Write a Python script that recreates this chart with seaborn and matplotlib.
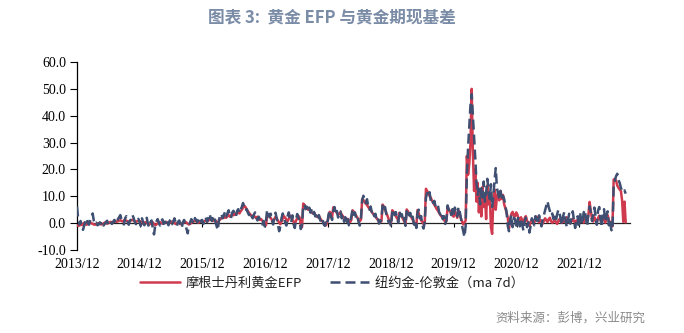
import numpy as np
import pandas as pd
import matplotlib
matplotlib.use("Agg")
import matplotlib.pyplot as plt
import matplotlib.dates as mdates
import seaborn as sns

# ---------------- data (weekly readings, starting 2013-12-01) ----------------
start_date = "2013-12-01"

efp_values = [
    # 2013/12 - 2014/11
    -0.8,-1.0,-0.9,-0.5,-0.7,-0.3,0.2,-0.4,-0.6,-0.2,0.1,0.3,0.0,-0.3,-0.5,-0.6,-0.4,-0.2,0.0,-0.3,
    -0.5,-0.4,-0.1,0.2,0.1,-0.2,0.0,0.3,0.5,0.2,0.4,0.6,0.8,0.5,0.7,0.9,1.1,0.8,0.6,1.0,
    1.2,0.9,0.7,0.5,0.8,1.0,1.3,1.0,0.6,0.4,0.7,0.9,
    # 2014/12 - 2015/11
    0.8,0.5,0.3,-0.2,0.1,0.4,0.2,-0.3,-0.5,-0.2,0.0,0.3,-0.4,-0.8,-0.5,-0.1,0.2,0.4,0.1,-0.2,
    0.0,0.3,0.5,0.2,-0.1,0.1,0.4,0.6,0.3,0.0,-0.3,-0.1,0.2,0.0,-0.4,-0.2,0.1,0.3,0.5,0.2,
    -0.2,-0.5,-0.3,0.1,0.4,0.6,0.9,0.7,0.4,0.2,0.5,0.8,
    # 2015/12 - 2016/11
    0.5,0.3,0.8,1.0,0.6,0.9,1.2,1.5,1.1,0.8,1.3,1.0,0.4,0.2,0.9,1.4,1.8,2.2,1.9,2.5,
    2.0,2.6,3.0,2.4,2.8,3.3,2.9,3.5,3.1,3.8,4.2,3.6,4.4,5.0,5.8,6.5,6.0,5.2,4.5,3.8,
    3.2,2.9,2.5,2.8,2.2,1.9,2.4,1.6,1.2,1.5,0.9,0.5,
    # 2016/12 - 2017/11
    -0.5,-0.8,2.5,3.2,2.6,1.9,1.2,0.8,1.5,2.4,1.8,0.9,0.3,-0.4,0.6,1.8,2.6,2.0,1.3,0.7,
    1.6,2.8,2.2,1.4,0.5,-0.2,0.9,1.8,2.7,2.1,-0.6,-1.5,7.3,6.8,6.2,5.6,5.0,5.5,4.6,4.0,
    3.6,3.9,3.1,2.6,2.2,2.8,1.9,1.2,0.6,0.2,-0.3,-0.8,
    # 2017/12 - 2018/11
    0.5,2.0,4.2,3.6,2.4,5.9,5.2,4.4,3.8,3.0,3.5,4.1,3.2,2.6,2.0,1.5,1.0,1.6,0.8,0.4,
    1.2,4.8,4.2,3.5,2.8,2.0,1.4,0.7,1.3,9.0,8.6,8.0,7.2,6.8,6.0,5.4,4.9,4.2,3.5,3.0,
    2.4,1.8,1.2,0.8,1.0,0.6,6.9,6.2,5.0,3.9,2.8,1.5,
    # 2018/12 - 2019/11
    -0.2,0.3,4.8,4.2,3.5,2.6,1.8,1.0,3.9,3.2,2.4,1.5,0.6,-0.3,5.1,4.4,3.6,2.8,2.0,1.2,
    0.3,-0.6,-1.0,4.9,3.6,2.2,1.0,0.5,-0.4,0.2,12.8,12.0,11.2,10.1,9.5,8.4,7.6,6.8,6.0,5.2,
    4.6,3.8,3.0,2.4,1.8,1.2,0.5,0.8,5.9,5.2,4.4,3.6,
    # 2019/12 - 2020/11
    3.0,2.4,4.5,3.2,2.0,4.8,3.5,1.8,0.6,-0.5,0.2,1.0,25.0,18.0,22.0,30.0,50.0,26.0,12.0,20.0,
    8.0,15.0,4.0,12.0,2.5,13.5,6.0,10.5,1.5,14.0,7.0,11.0,-1.5,-4.0,9.0,12.5,5.0,10.0,11.5,8.5,
    12.0,9.0,10.5,7.0,5.5,4.0,2.0,-2.0,1.5,3.5,4.2,2.8,
    # 2020/12 - 2021/11
    2.5,4.0,3.2,1.5,0.8,2.2,1.0,-0.5,1.8,2.6,0.9,0.2,-1.0,0.5,1.4,0.8,0.2,1.6,2.4,1.0,
    0.3,1.2,0.6,-0.2,0.9,1.8,1.1,0.4,1.5,2.0,0.7,0.1,0.6,1.2,0.4,-0.3,0.8,1.5,0.6,0.2,
    1.0,0.5,1.3,2.2,0.9,0.3,1.1,0.6,1.7,0.8,0.2,1.0,
    # 2021/12 - 2022/08
    0.8,1.5,0.4,2.0,1.2,0.2,1.6,2.4,0.9,3.0,7.9,4.5,1.5,
    0.6,2.2,1.0,0.3,1.8,2.8,1.2,0.5,2.4,1.5,0.2,1.9,3.0,1.0,0.4,-0.5,-1.2,
    16.2,16.5,15.8,14.0,13.2,12.5,12.0,8.5,0.5,8.0,0.3,
]

basis_values = [
    # 2013/12 - 2014/11
    6.2,1.5,-0.5,0.8,-1.2,-2.5,-0.8,0.5,1.8,0.2,-0.6,1.2,2.0,3.6,0.8,-0.4,0.2,-0.8,-0.5,0.3,
    -0.2,0.6,-0.9,-0.3,0.4,0.9,-0.5,0.2,0.7,-0.3,0.5,1.2,0.3,-0.2,1.5,2.2,3.0,1.2,0.4,-0.5,
    1.8,2.6,0.8,-0.6,0.9,1.5,3.1,2.0,0.5,-0.4,1.1,1.6,
    # 2014/12 - 2015/11
    0.5,-1.0,1.8,0.3,-0.8,1.2,2.0,-0.5,-1.5,0.4,1.0,-2.0,-4.2,-1.0,0.6,1.5,0.2,-0.9,0.8,1.4,
    -0.3,0.2,1.6,0.5,-0.8,0.9,1.3,-0.4,0.6,1.8,0.2,-1.1,0.5,1.0,-0.6,-1.8,0.3,1.2,-0.5,-2.2,
    -3.8,-0.8,0.4,1.5,0.7,-0.2,1.9,1.1,0.3,1.4,2.2,0.6,
    # 2015/12 - 2016/11
    1.2,-0.3,0.9,2.1,0.4,1.5,3.5,2.2,0.8,1.9,2.8,0.5,-1.0,-2.6,1.2,2.8,3.5,1.8,2.9,4.2,
    2.5,3.6,4.8,2.8,1.9,3.9,4.6,3.2,2.4,4.5,5.2,3.8,4.9,6.1,7.5,5.8,4.6,5.2,3.9,3.0,
    4.1,2.6,1.8,3.2,4.0,2.1,1.0,2.4,1.5,0.3,-0.5,0.8,
    # 2016/12 - 2017/11
    -1.2,0.5,5.0,3.8,2.2,3.5,1.0,-0.5,2.8,3.9,1.6,-0.8,-3.0,-1.2,1.9,3.6,2.1,0.2,-0.9,2.6,
    4.0,1.5,0.3,2.9,-0.4,-1.8,1.2,3.4,2.0,0.6,-2.2,-0.5,6.5,7.0,5.2,6.1,4.3,5.8,3.9,4.8,
    3.0,4.2,2.5,3.4,1.8,3.0,1.2,0.5,1.6,-0.4,-1.0,0.3,
    # 2017/12 - 2018/11
    -0.6,3.1,4.8,2.5,1.2,4.6,6.0,3.2,4.5,2.1,3.9,4.4,1.8,3.0,0.5,2.2,-0.3,1.4,-0.8,0.6,
    2.5,5.2,3.1,4.0,1.8,2.6,0.4,-0.9,2.0,8.5,10.2,8.8,7.5,8.9,6.4,5.0,6.2,4.1,4.8,2.6,
    3.5,1.2,2.0,-0.2,0.5,1.5,7.2,5.6,6.0,3.4,2.2,0.3,
    # 2018/12 - 2019/11
    0.8,-1.2,3.9,5.2,3.0,4.1,1.6,0.2,4.5,2.6,3.3,0.8,1.9,-1.0,4.4,5.3,2.9,3.8,1.2,2.4,
    -0.5,0.9,-1.8,4.0,5.0,1.8,2.6,-0.8,-2.0,0.4,9.5,11.2,10.0,11.5,8.2,9.0,7.5,8.3,6.1,5.6,
    6.5,4.0,3.2,4.1,1.5,2.6,-0.3,1.0,6.6,4.8,5.5,3.0,
    # 2019/12 - 2020/11
    5.2,3.1,5.8,4.0,2.5,6.0,4.4,2.0,-1.0,-3.0,-5.2,-1.0,18.0,28.0,36.0,44.0,48.0,40.0,32.0,24.0,
    15.0,10.5,12.8,7.0,13.0,9.5,15.5,8.0,11.0,16.5,12.0,9.0,14.5,6.0,10.0,16.0,20.5,13.0,11.0,9.0,
    12.0,8.5,10.2,9.0,6.5,4.0,-1.0,-3.0,1.2,3.0,-1.5,2.0,
    # 2020/12 - 2021/11
    1.5,-2.0,0.8,2.5,-1.2,1.6,-0.5,-2.8,0.6,2.0,-1.5,0.3,-3.5,-1.0,1.8,0.5,-0.8,2.6,1.2,-0.4,
    2.9,0.8,-1.2,1.5,3.0,4.8,6.5,8.2,6.0,4.5,2.8,3.6,1.5,2.4,0.8,3.2,5.0,3.8,1.5,-0.8,
    2.6,4.2,1.2,-1.5,0.8,3.5,-0.2,2.0,4.4,1.0,-1.8,1.4,
    # 2021/12 - 2022/08
    2.5,-1.8,4.2,1.0,-0.5,3.8,5.0,1.5,-1.2,3.6,6.2,4.0,0.8,
    3.5,5.8,2.2,-0.6,4.6,6.0,1.8,-1.5,3.2,5.2,0.5,2.8,4.4,-0.8,1.2,-2.5,-3.0,
    14.0,16.0,17.5,18.4,16.0,15.0,13.2,12.0,11.5,12.2,11.0,
]

efp_label = "摩根士丹利黄金EFP"
basis_label = "纽约金-伦敦金（ma 7d）"
title_text = "图表 3:  黄金 EFP 与黄金期现基差"
source_text = "资料来源：彭博，兴业研究"
tick_years = list(range(2013, 2022))
y_ticks = [-10, 0, 10, 20, 30, 40, 50, 60]

# ---------------- build frames ----------------
df_efp = pd.DataFrame({"date": pd.date_range(start_date, periods=len(efp_values), freq="7D"),
                       "value": efp_values})
df_basis = pd.DataFrame({"date": pd.date_range(start_date, periods=len(basis_values), freq="7D"),
                         "value": basis_values})

sns.set_theme(style="white")
plt.rcParams["font.family"] = ["Noto Sans CJK SC", "DejaVu Sans"]

RED = "#D03A4E"
BLUE = "#3E4F72"

fig = plt.figure(figsize=(6.84, 3.33), dpi=100)
ax = fig.add_axes([77 / 684, 1 - 250 / 333, (630 - 77) / 684, (250 - 62) / 333])

sns.lineplot(data=df_efp, x="date", y="value", ax=ax, color=RED, linewidth=1.8,
             estimator=None, label=efp_label, zorder=3)
sns.lineplot(data=df_basis, x="date", y="value", ax=ax, color=BLUE, linewidth=1.8,
             estimator=None, label=basis_label, zorder=4)
blue_line = ax.get_lines()[1]
blue_line.set_dashes((4, 2))

ax.set_ylim(-10, 60)
ax.set_xlim(pd.Timestamp("2013-12-01"), pd.Timestamp("2022-09-22"))
ax.set_xlabel("")
ax.set_ylabel("")

tick_dates = [pd.Timestamp(f"{y}-12-01") for y in tick_years]
ax.set_xticks(tick_dates)
ax.set_xticklabels([f"{y}/12" for y in tick_years], fontfamily="Liberation Serif", fontsize=10)
ax.set_yticks(y_ticks)
ax.set_yticklabels([f"{v:.1f}" for v in y_ticks], fontfamily="Liberation Serif", fontsize=10)
ax.tick_params(axis="x", length=0, pad=6, colors="black")
ax.tick_params(axis="y", direction="out", length=5, width=0.8, pad=3, colors="black", left=True)

for s in ["top", "right", "bottom"]:
    ax.spines[s].set_visible(False)
ax.spines["left"].set_color("black")
ax.spines["left"].set_linewidth(0.9)

# zero line with tick marks (axis crossing at 0)
secax = ax.secondary_xaxis(10 / 70)
secax.set_xticks(mdates.date2num(tick_dates))
secax.tick_params(axis="x", direction="out", length=3, width=0.8, labelbottom=False, colors="black")
secax.spines["bottom"].set_color("#222222")
secax.spines["bottom"].set_linewidth(0.9)

leg = ax.legend(loc="center", bbox_to_anchor=(332 / 684, 1 - 283 / 333),
                bbox_transform=fig.transFigure, ncol=2, frameon=False,
                handlelength=3.0, columnspacing=2.1, handletextpad=0.45,
                prop={"family": ["Noto Sans CJK SC", "DejaVu Sans"], "size": 9.5})
for t in leg.get_texts():
    t.set_color("#222222")

fig.text(332 / 684, 1 - 17 / 333, title_text, ha="center", va="center",
         fontsize=12, fontweight="bold", color="#7B8CA7",
         family=["Noto Sans CJK SC", "DejaVu Sans"])
fig.text(645 / 684, 1 - 318 / 333, source_text, ha="right", va="center",
         fontsize=9, color="#8A8A8A", family=["Noto Sans CJK SC", "DejaVu Sans"])

fig.savefig("out.png", dpi=100)
